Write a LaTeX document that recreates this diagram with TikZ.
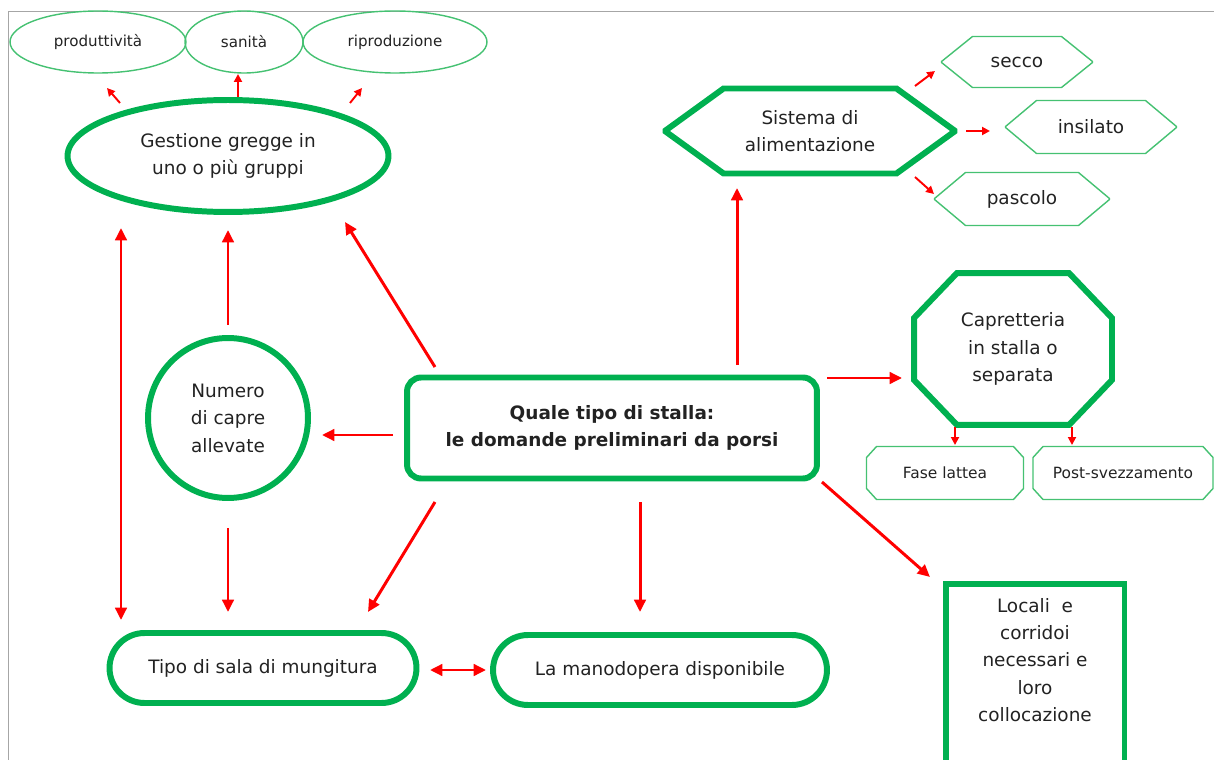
\documentclass[tikz,border=0pt]{standalone}
\usepackage{fontspec}
\setmainfont{DejaVu Sans}
\usetikzlibrary{positioning,arrows.meta,shapes.geometric,shapes.misc,calc}

\definecolor{verde}{HTML}{00B050}
\definecolor{verdechiaro}{HTML}{45C172}
\definecolor{rosso}{HTML}{FF0000}
\definecolor{cornice}{HTML}{A6A6A6}
\definecolor{testo}{HTML}{222222}

\newcommand{\testogrande}{\fontsize{10.5}{15.6}\selectfont}
\newcommand{\testopiccolo}{\fontsize{8.6}{10}\selectfont}
\newcommand{\testomedio}{\fontsize{8.8}{10}\selectfont}

% contorno smussato attorno a un nodo: nome, smusso x, smusso y, stile
\newcommand{\smussa}[4]{%
  \draw[#4] ($(#1.north west)+(#2,0)$) -- ($(#1.north east)+(-#2,0)$)
    -- ($(#1.north east)+(0,#3)$) -- ($(#1.south east)+(0,-#3)$)
    -- ($(#1.south east)+(-#2,0)$) -- ($(#1.south west)+(#2,0)$)
    -- ($(#1.south west)+(0,-#3)$) -- ($(#1.north west)+(0,#3)$) -- cycle;}

\tikzset{
  grosso/.style={draw=verde, line width=3.4pt, align=center, text=testo, font=\testogrande, inner sep=0pt},
  sottile/.style={draw=verdechiaro, line width=0.8pt, align=center, text=testo, inner sep=0pt},
  lineagrossa/.style={draw=verde, line width=3.4pt, line join=miter},
  lineasottile/.style={draw=verdechiaro, line width=0.8pt},
  vuoto/.style={rectangle, align=center, text=testo, font=\testogrande, inner sep=0pt, outer sep=0pt},
  freccia/.style={draw=rosso, line width=1.7pt, -{Triangle[length=7pt,width=6.5pt]}},
  doppia/.style={draw=rosso, line width=1.7pt, {Triangle[length=7pt,width=6.5pt]}-{Triangle[length=7pt,width=6.5pt]}},
  frecciola/.style={draw=rosso, line width=1.1pt, -{Triangle[length=4.5pt,width=4.5pt]}},
}

\begin{document}
\begin{tikzpicture}[x=0.02cm,y=-0.02cm]
\useasboundingbox (0,0) rectangle (1214,760);
\draw[cornice, line width=0.6pt] (8.5,760) -- (8.5,11.5) -- (1214,11.5);

% gestione del gregge
\node[sottile, ellipse, minimum width=3.52cm, minimum height=1.24cm, font=\testopiccolo] (prod) at (98,42) {produttività};
\node[sottile, ellipse, minimum width=2.36cm, minimum height=1.24cm, font=\testopiccolo] (san) at (244,42) {sanità};
\node[sottile, ellipse, minimum width=3.68cm, minimum height=1.24cm, font=\testopiccolo] (rip) at (395,42) {riproduzione};
\node[grosso, ellipse, minimum width=6.42cm, minimum height=2.24cm] (ges) at (228,156) {Gestione gregge in\\uno o più gruppi};
\node[grosso, circle, minimum size=3.2cm] (num) at (228,418) {Numero\\di capre\\allevate};

% domanda centrale
\node[grosso, rectangle, rounded corners=0.28cm, minimum width=8.2cm, minimum height=2.02cm, font=\testogrande\bfseries] (q) at (612,428) {Quale tipo di stalla:\\le domande preliminari da porsi};

% alimentazione
\node[vuoto, minimum width=5.78cm, minimum height=1.7cm] (sis) at (810,131) {Sistema di\\alimentazione};
\node[vuoto, minimum width=3.02cm, minimum height=1.02cm] (secco) at (1017,62) {secco};
\node[vuoto, minimum width=3.42cm, minimum height=1.06cm] (insilato) at (1091,127) {insilato};
\node[vuoto, minimum width=3.5cm, minimum height=1.06cm] (pascolo) at (1022,199) {pascolo};
\smussa{sis}{58}{42}{lineagrossa}
\smussa{secco}{31}{25}{lineasottile}
\smussa{insilato}{31}{26}{lineasottile}
\smussa{pascolo}{31}{26}{lineasottile}

% capretteria
\node[vuoto, minimum width=3.96cm, minimum height=3.04cm] (cap) at (1013,349) {Capretteria\\in stalla o\\separata};
\node[vuoto, minimum width=3.14cm, minimum height=1.06cm, font=\testomedio] (fase) at (945,473) {Fase lattea};
\node[vuoto, minimum width=3.6cm, minimum height=1.06cm, font=\testomedio] (post) at (1123,473) {Post-svezzamento};
\smussa{cap}{43}{45}{lineagrossa}
\smussa{fase}{10}{11}{lineasottile}
\smussa{post}{10}{11}{lineasottile}

% locali
\node[grosso, rectangle, minimum width=3.58cm, minimum height=4.4cm, anchor=north] (loc) at (1035,581) {};
\node[vuoto] (loctxt) at (1035,660) {Locali\ \ e\\corridoi\\necessari e\\loro\\collocazione};

% mungitura e manodopera
\node[grosso, rounded rectangle, minimum width=6.14cm, minimum height=1.4cm] (tipo) at (263,668) {Tipo di sala di mungitura};
\node[grosso, rounded rectangle, minimum width=6.68cm, minimum height=1.4cm] (mano) at (660,670) {La manodopera disponibile};

% frecce dalla domanda centrale
\draw[freccia] ($(q)+(-177,-61)$) -- ($(ges)+(117,66)$);
\draw[freccia] ($(q)+(-219,7)$) -- ($(num)+(94,17)$);
\draw[freccia] ($(q)+(-177,74)$) -- ($(tipo)+(105,-56)$);
\draw[freccia] ($(q)+(28,74)$) -- ($(mano)+(-20,-58)$);
\draw[freccia] ($(q)+(210,54)$) -- ($(loc.north)+(-105,-4)$);
\draw[freccia] ($(q)+(215,-50)$) -- ($(cap)+(-111,29)$);
\draw[freccia] ($(q)+(125,-63)$) -- ($(sis)+(-73,57)$);

\draw[freccia] ($(num)+(0,-93)$) -- ($(ges)+(0,74)$);
\draw[freccia] ($(num)+(0,110)$) -- ($(tipo)+(-35,-56)$);
\draw[doppia] ($(ges)+(-107,72)$) -- ($(tipo)+(-142,-48)$);
\draw[doppia] ($(tipo)+(167,2)$) -- ($(mano)+(-174,0)$);

% frecce piccole
\draw[frecciola] ($(sis)+(105,-45)$) -- ($(secco)+(-82,9)$);
\draw[frecciola] ($(sis)+(156,0)$) -- ($(insilato)+(-101,4)$);
\draw[frecciola] ($(sis)+(105,46)$) -- ($(pascolo)+(-88,-5)$);
\draw[frecciola] ($(ges)+(-108,-53)$) -- ($(prod)+(9,46)$);
\draw[frecciola] ($(ges)+(10,-59)$) -- ($(san)+(-6,32)$);
\draw[frecciola] ($(ges)+(122,-53)$) -- ($(rip)+(-33,46)$);
\draw[frecciola] ($(cap)+(-58,78)$) -- ($(fase)+(10,-28)$);
\draw[frecciola] ($(cap)+(59,78)$) -- ($(post)+(-51,-28)$);
\end{tikzpicture}
\end{document}
